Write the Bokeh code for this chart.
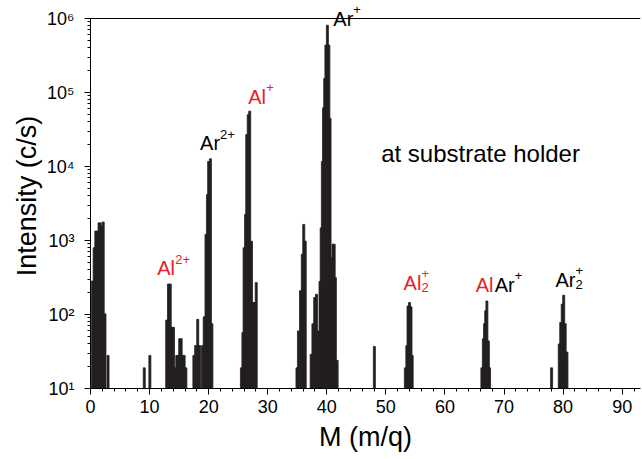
from bokeh.plotting import figure
from bokeh.models import Range1d, FixedTicker, LogTicker, Span, ColumnDataSource, CustomJSTickFormatter
from bokeh.embed import file_html
from bokeh.resources import INLINE
from bokeh.core.properties import value

# ---- data: mass (amu) and intensity (c/s) ----
mass = [0.35, 0.62, 0.9, 1.15, 1.45, 1.65, 1.9, 2.15, 2.45, 2.97,
        9.1, 10.05,
        12.9, 13.2, 13.5, 13.8, 14.05, 14.35, 14.6, 14.8, 15.1, 15.35, 15.6, 15.85, 16.15,
        17.5, 17.8, 18.15, 18.45,
        18.95, 19.25, 19.55, 19.8, 20.0, 20.3, 20.55,
        25.55, 25.8, 26.0, 26.25, 26.45, 26.7, 26.95, 27.25, 27.5, 27.75, 28.05,
        34.95, 35.2, 35.55, 35.85, 36.1, 36.35,
        37.35, 37.65, 37.95, 38.25, 38.6,
        38.85, 39.05, 39.25, 39.45, 39.65, 39.85, 40.1, 40.35, 40.55, 40.8, 41.05, 41.25, 41.45, 41.75,
        48.05,
        53.3, 53.55, 53.75, 54.0, 54.25, 54.45,
        66.25, 66.5, 66.7, 66.9, 67.1, 67.35, 67.55,
        78.05,
        79.35, 79.6, 79.85, 80.1, 80.35, 80.65]
intensity = [284, 797, 1340, 1340, 1730, 1730, 1560, 1780, 102, 28,
             19, 28,
             84, 258, 258, 67, 67, 19, 28, 28, 47, 47, 28, 28, 19,
             28, 38, 86, 38,
             38, 93, 1210, 4170, 11700, 12700, 75,
             19, 57, 797, 2240, 27000, 50000, 56000, 975, 145, 145, 270,
             19, 60, 210, 650, 1650, 980,
             29, 75, 170, 188, 60,
             280, 1480, 11700, 62000, 155000, 437000, 810000, 437000, 44700, 585, 890, 890, 315, 24,
             37,
             19, 38, 130, 145, 127, 28,
             19, 47, 75, 112, 152, 44, 19,
             19,
             40, 78, 138, 182, 75, 31]

x_ticks = [0, 10, 20, 30, 40, 50, 60, 70, 80, 90]
y_min, y_max = 10, 1e6

RED = "#e8202a"
# peak labels: base text, position (mass, intensity), colour
lab_text = ["Ar", "Al", "Ar", "Al", "Al", "Al", "Ar", "Ar"]
lab_x = [41.1, 26.7, 18.55, 11.3, 53.0, 65.2, 65.2, 78.7]
lab_y = [9.9e5, 87700, 20500, 424, 268, 251, 251, 294]
lab_col = ["black", RED, "black", RED, RED, RED, "black", "black"]
lab_dx = [0, 0, 0, 0, 0, 0, 19, 0]

sup_text = ["+", "+", "2+", "2+", "+", "+", "+"]
sup_x = [41.1, 26.7, 18.55, 11.3, 53.0, 65.2, 78.7]
sup_y = [9.9e5, 87700, 20500, 424, 268, 251, 294]
sup_col = ["black", RED, "black", RED, RED, "black", "black"]
sup_dx = [20, 18, 20, 18, 18, 39, 20]

sub_text = ["2", "2"]
sub_x = [53.0, 78.7]
sub_y = [268, 294]
sub_col = [RED, "black"]
sub_dx = [18, 20]

note_text = ["at substrate holder"]
note_x = [49.2]
note_y = [15000]

FONT = "Liberation Sans"

# frame extends a little above 1e6 so the top label is not clipped;
# the axis line itself is bounded to [1e1, 1e6]
p = figure(frame_width=550, frame_height=385, y_axis_type="log",
           x_range=Range1d(0, 93.1), y_range=Range1d(y_min, y_max * 10 ** (15 / 74)),
           output_backend="svg", toolbar_location=None,
           min_border_left=90, min_border_top=3, min_border_right=2, min_border_bottom=0)
p.outline_line_color = None
p.xgrid.visible = False
p.ygrid.visible = False
p.background_fill_color = "white"
p.border_fill_color = "white"

src = ColumnDataSource(dict(m=mass, i=intensity))
p.vbar(x="m", top="i", bottom=y_min, width=0.34, source=src,
       fill_color="#231f20", line_color="#231f20", line_width=0.8)

# axes
p.xaxis.ticker = FixedTicker(ticks=x_ticks, minor_ticks=list(range(0, 94, 2)))
p.yaxis.ticker = LogTicker(num_minor_ticks=10)
p.yaxis.bounds = (y_min, y_max)
p.yaxis.formatter = CustomJSTickFormatter(code="""
    const e = Math.round(Math.log10(tick));
    const sup = ['\u2070','\u00b9','\u00b2','\u00b3','\u2074','\u2075','\u2076','\u2077','\u2078','\u2079'];
    return '10' + sup[e];
""")
for ax in (p.xaxis[0], p.yaxis[0]):
    ax.axis_line_color = "black"
    ax.major_tick_line_color = "black"
    ax.minor_tick_line_color = "black"
    ax.major_tick_in = 0
    ax.major_tick_out = 6
    ax.minor_tick_in = 0
    ax.minor_tick_out = 3
    ax.major_label_text_color = "black"
    ax.major_label_text_font = FONT
    ax.major_label_text_font_size = "18px"
    ax.axis_label_text_font = FONT
    ax.axis_label_text_font_size = "27px"
    ax.axis_label_text_font_style = "normal"
    ax.axis_label_text_color = "black"
p.xaxis.axis_label = "M (m/q)"
p.yaxis.axis_label = "Intensity (c/s)"
p.xaxis.major_label_standoff = 5
p.xaxis.axis_label_standoff = 6
p.yaxis.major_label_standoff = 10
p.yaxis.axis_label_standoff = 2

p.add_layout(Span(location=y_max, dimension="width", line_color="black", line_width=1))

def add_text(xs, ys, texts, cols, dxs, dy, size):
    p.text(x=xs, y=ys, text=texts, x_offset=dxs, y_offset=dy, text_color=cols,
           text_font=value(FONT), text_font_size=size,
           text_align="left", text_baseline="alphabetic")

add_text(lab_x, lab_y, lab_text, lab_col, lab_dx, 0, "20px")
add_text(sup_x, sup_y, sup_text, sup_col, sup_dx, -9, "13px")
add_text(sub_x, sub_y, sub_text, sub_col, sub_dx, 5, "13px")
add_text(note_x, note_y, note_text, ["black"], [0], 0, "24px")

open("out.html", "w").write(file_html(p, INLINE))
